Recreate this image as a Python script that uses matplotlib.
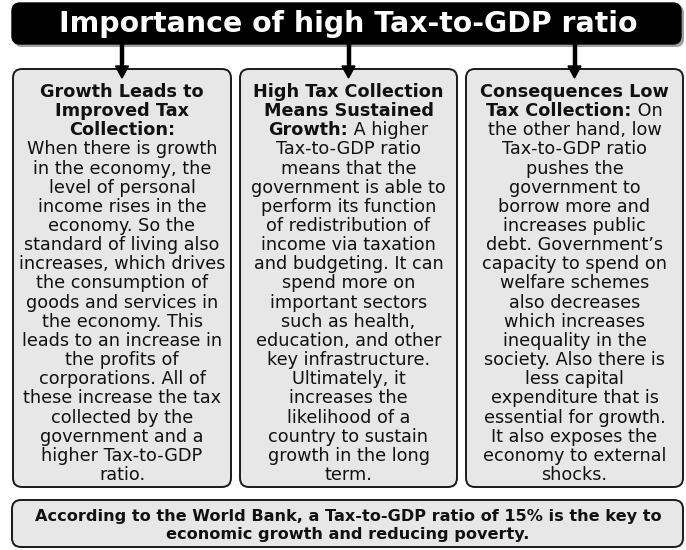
import matplotlib
matplotlib.use("Agg")
import matplotlib.pyplot as plt
from matplotlib.patches import FancyBboxPatch, Polygon

W, H = 686, 550
FONT = "DejaVu Sans"

title = "Importance of high Tax-to-GDP ratio"

box1_bold = ["Growth Leads to", "Improved Tax", "Collection:"]
box1_text = ["When there is growth", "in the economy, the", "level of personal",
             "income rises in the", "economy. So the", "standard of living also",
             "increases, which drives", "the consumption of", "goods and services in",
             "the economy. This", "leads to an increase in", "the profits of",
             "corporations. All of", "these increase the tax", "collected by the",
             "government and a", "higher Tax-to-GDP", "ratio."]

box2_bold = ["High Tax Collection", "Means Sustained", "Growth:"]
box2_text = [" A higher", "Tax-to-GDP ratio", "means that the", "government is able to",
             "perform its function", "of redistribution of", "income via taxation",
             "and budgeting. It can", "spend more on", "important sectors",
             "such as health,", "education, and other", "key infrastructure.",
             "Ultimately, it", "increases the", "likelihood of a",
             "country to sustain", "growth in the long", "term."]

box3_bold = ["Consequences Low", "Tax Collection:"]
box3_text = [" On", "the other hand, low", "Tax-to-GDP ratio", "pushes the",
             "government to", "borrow more and", "increases public",
             "debt. Government\u2019s", "capacity to spend on", "welfare schemes",
             "also decreases", "which increases", "inequality in the",
             "society. Also there is", "less capital", "expenditure that is",
             "essential for growth.", "It also exposes the", "economy to external",
             "shocks."]

footer = ["According to the World Bank, a Tax-to-GDP ratio of 15% is the key to",
          "economic growth and reducing poverty."]

fig = plt.figure(figsize=(W / 100, H / 100), dpi=100)
ax = fig.add_axes([0, 0, 1, 1])
ax.set_xlim(0, W)
ax.set_ylim(H, 0)
ax.axis("off")
fig.canvas.draw()
renderer = fig.canvas.get_renderer()


def width_of(s, size, weight):
    t = ax.text(0, 0, s, fontsize=size, fontweight=weight, family=FONT)
    w = t.get_window_extent(renderer).width
    t.remove()
    return w


def fit_size(s, target, weight):
    base = 12.0
    return base * target / width_of(s, base, weight)


def rbox(x0, y0, x1, y1, fc, ec, lw, r=8, z=1):
    p = FancyBboxPatch((x0, y0), x1 - x0, y1 - y0,
                       boxstyle=f"round,pad=0,rounding_size={r}",
                       fc=fc, ec=ec, lw=lw, zorder=z)
    ax.add_patch(p)


# title box with shadow
rbox(14, 5, 684, 47, "#a0a0a0", "none", 0, r=8, z=1)
rbox(12, 3, 681, 44, "#000000", "#000000", 1, r=8, z=2)
tsize = fit_size(title, 576, "bold")
ax.text(348, 24, title, color="white", fontsize=tsize, fontweight="bold",
        family=FONT, ha="center", va="center", zorder=3)

# content boxes
boxes = [(13, 231), (240, 457), (466, 683)]
for (x0, x1) in boxes:
    rbox(x0, 69, x1, 487, "#e7e7e7", "#1a1a1a", 1.4, r=9, z=1)
    cx = (x0 + x1) / 2
    ax.plot([cx, cx], [44, 67], color="black", lw=3.2, solid_capstyle="butt", zorder=4)
    ax.add_patch(Polygon([[cx - 6.5, 66], [cx + 6.5, 66], [cx, 78]],
                         closed=True, fc="black", ec="black", zorder=4))

bsize = fit_size("increases, which drives", 205, "normal")
y_first, dy = 92, 19.15


def draw_box(cx, bold, text):
    y = y_first
    for s in bold[:-1]:
        ax.text(cx, y, s, fontsize=bsize, fontweight="bold", family=FONT,
                ha="center", va="center", color="#111111", zorder=3)
        y += dy
    last = bold[-1]
    rest = text[0] if text[0].startswith(" ") else None
    if rest is not None:
        wb = width_of(last, bsize, "bold")
        wr = width_of(rest, bsize, "normal")
        x = cx - (wb + wr) / 2
        ax.text(x, y, last, fontsize=bsize, fontweight="bold", family=FONT,
                ha="left", va="center", color="#111111", zorder=3)
        ax.text(x + wb, y, rest, fontsize=bsize, family=FONT,
                ha="left", va="center", color="#111111", zorder=3)
        lines = text[1:]
    else:
        ax.text(cx, y, last, fontsize=bsize, fontweight="bold", family=FONT,
                ha="center", va="center", color="#111111", zorder=3)
        lines = text
    y += dy
    for s in lines:
        ax.text(cx, y, s, fontsize=bsize, family=FONT,
                ha="center", va="center", color="#111111", zorder=3)
        y += dy


draw_box(122, box1_bold, box1_text)
draw_box(348.5, box2_bold, box2_text)
draw_box(574.5, box3_bold, box3_text)

# footer
rbox(12, 500, 683, 547, "#e7e7e7", "#1a1a1a", 1.4, r=9, z=1)
fsize = fit_size(footer[0], 625, "bold")
ax.text(348, 516, footer[0], fontsize=fsize, fontweight="bold", family=FONT,
        ha="center", va="center", color="#111111", zorder=3)
ax.text(348, 535, footer[1], fontsize=fsize, fontweight="bold", family=FONT,
        ha="center", va="center", color="#111111", zorder=3)

fig.savefig("out.png", dpi=100, facecolor="white")
